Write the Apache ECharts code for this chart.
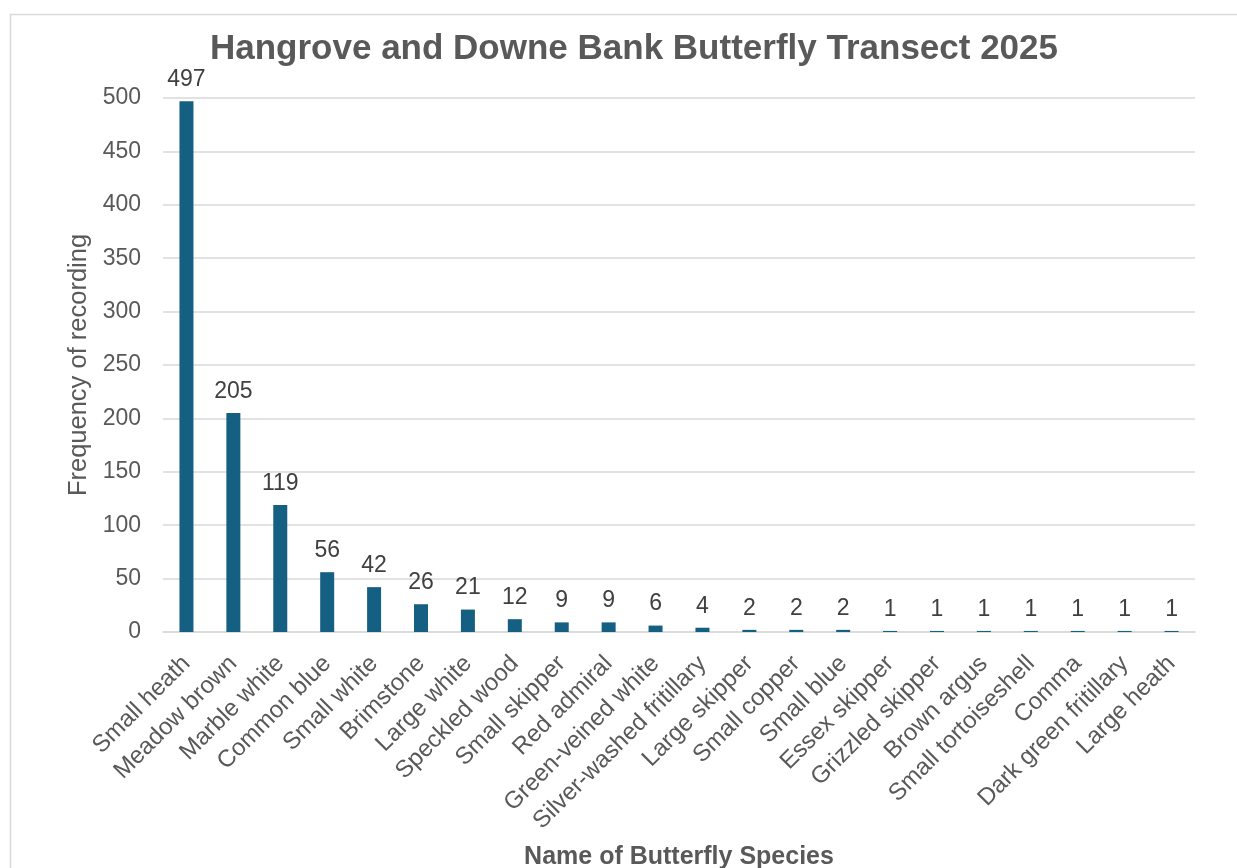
<!DOCTYPE html>
<html><head><meta charset="utf-8">
<script src="https://cdn.jsdelivr.net/npm/echarts@6/dist/echarts.min.js"></script>
<style>html,body{margin:0;padding:0;background:#fff}#c{width:1237px;height:868px}</style>
</head><body><div id="c"></div>
<script>
const categories = ["Small heath","Meadow brown","Marble white","Common blue","Small white","Brimstone","Large white","Speckled wood","Small skipper","Red admiral","Green-veined white","Silver-washed fritillary","Large skipper","Small copper","Small blue","Essex skipper","Grizzled skipper","Brown argus","Small tortoiseshell","Comma","Dark green fritillary","Large heath"];
const counts = [497,205,119,56,42,26,21,12,9,9,6,4,2,2,2,1,1,1,1,1,1,1];
const titleText = "Hangrove and Downe Bank Butterfly Transect 2025";
const xName = "Name of Butterfly Species";
const yName = "Frequency of recording";

const FONT = 'Liberation Sans';
const chart = echarts.init(document.getElementById('c'));
chart.setOption({
  animation: false,
  textStyle: {fontFamily: FONT},
  graphic: [{type:'rect', shape:{x:10.5, y:14.5, width:1240, height:870}, style:{fill:'none', stroke:'#D9D9D9', lineWidth:1.5}, silent:true, z:-1}],
  title: {text: titleText, left: 629, textAlign: 'center', top: 27,
    textStyle: {fontSize: 35, fontWeight: 'bold', color: '#595959', fontFamily: FONT}},
  grid: {left: 163, right: 42, top: 98, bottom: 236, outerBoundsMode: 'none', containLabel: false},
  xAxis: {type: 'category', data: categories,
    name: xName, nameLocation: 'middle', nameGap: 213,
    nameTextStyle: {fontSize: 25, fontWeight: 'bold', color: '#595959', fontFamily: FONT},
    axisLine: {lineStyle: {color: '#D9D9D9', width: 1.5}},
    axisTick: {show: false},
    axisLabel: {rotate: 45, interval: 0, fontSize: 24, color: '#595959', margin: 28, fontFamily: FONT}},
  yAxis: {type: 'value', min: 0, max: 500, interval: 50,
    name: yName, nameLocation: 'middle', nameGap: 61,
    nameTextStyle: {fontSize: 25.5, color: '#595959', fontFamily: FONT},
    axisLine: {show: false}, axisTick: {show: false},
    axisLabel: {fontSize: 23, color: '#595959', margin: 22, fontFamily: FONT},
    splitLine: {lineStyle: {color: '#D9D9D9', width: 1.5}}},
  series: [{type: 'bar', data: counts, barWidth: 14,
    itemStyle: {color: '#156082'},
    label: {show: true, position: 'top', distance: 10, fontSize: 23, color: '#404040', fontFamily: FONT}}]
});
</script></body></html>
